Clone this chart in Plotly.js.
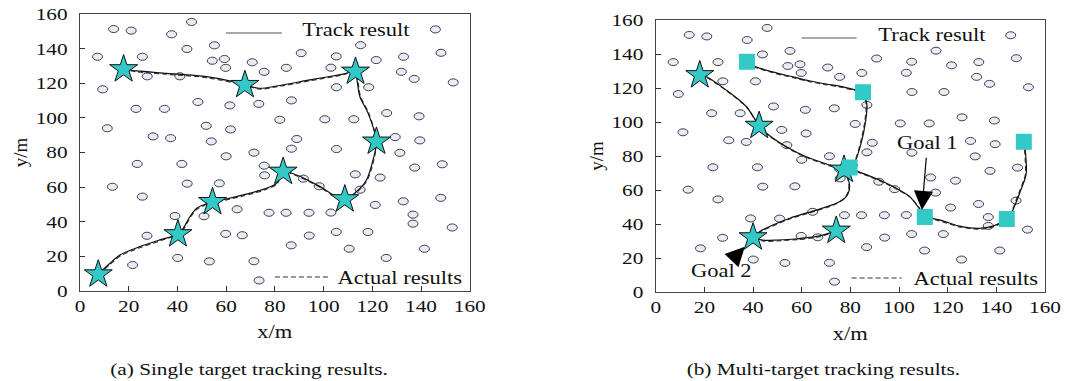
<!DOCTYPE html>
<html>
<head>
<meta charset="utf-8">
<script src="https://cdn.plot.ly/plotly-3.0.1.min.js"></script>
<style>html,body{margin:0;padding:0;background:#fff}#chart{width:1065px;height:381px}</style>
</head>
<body>
<div id="chart"></div>
<script>
// ---------- DATA ----------
const axisTicks = [0, 20, 40, 60, 80, 100, 120, 140, 160];

// obstacles shared by both maps
const obsX = [13.8,21.0,45.8,37.6,7.2,25.6,43.9,55.2,54.3,59.3,59.8,70.7,75.6,27.6,41.0,9.3,23.0,34.7,48.4,61.5,73.4,11.2,30.0,37.2,51.8,53.9,61.8,71.4,60.0,23.5,41.8,75.6,75.8,13.3,44.0,57.2,25.6,39.0,50.9,64.5,77.6,27.5,59.8,66.6,40.1,53.1,71.4,73.5,
  145.9,115.2,90.8,105.2,121.6,132.8,148.2,84.7,103.0,131.9,137.2,153.2,105.3,118.5,86.8,82.0,100.5,112.4,125.9,139.2,89.0,86.8,105.3,129.4,139.5,131.3,91.7,113.0,123.2,137.4,148.7,98.2,115.0,121.2,132.7,148.1,136.7,136.7,152.8,84.6,94.0,103.0,94.1,105.2,118.2,86.7,110.5,141.4,125.7];
const obsY = [151.3,150.4,155.4,148.3,135.3,135.3,139.8,141.9,133.0,134.0,128.9,132.1,126.6,124.0,124.0,116.5,105.2,105.2,109.2,107.2,108.1,94.0,89.3,88.3,95.4,86.4,93.3,79.9,77.8,73.4,73.4,72.4,66.8,60.2,62.0,62.2,54.5,43.3,43.2,47.2,45.2,31.9,33.0,32.2,19.1,17.1,17.2,6.1,
  151.1,142.0,137.4,135.5,133.4,135.3,137.6,128.9,129.0,126.6,122.5,120.5,117.7,117.7,110.1,98.9,99.2,99.2,102.8,100.9,87.8,82.2,82.0,88.9,87.0,79.8,64.9,67.4,65.5,71.3,73.2,60.5,58.5,49.7,51.8,53.8,44.1,38.9,36.7,45.2,45.2,45.3,32.0,34.1,34.1,26.4,24.4,24.4,19.1];
// obstacles only in one map
const obsOnlyAX = [21.6], obsOnlyAY = [15.0];
const obsOnlyBX = [18.4], obsOnlyBY = [25.7];

// (a) single target
const aTrackX = [7.5,12.3,16.4,24.6,32.8,40.2,42.4,45.1,47.9,50.6,54.4,59.5,67.0,75.2,80.7,83.4,88.9,98.5,103.9,108.7,113.5,117.6,120.3,121.7,118.3,114.9,113.8,113.1,108.0,94.4,80.7,73.8,67.7,62.9,52.0,35.6,23.3,17.9];
const aTrackY = [9.6,16.0,20.8,25.6,29.5,32.8,36.2,42.9,47.8,49.7,51.6,53.0,55.5,58.7,62.2,68.9,67.0,60.3,55.5,53.0,57.4,64.1,75.7,86.3,102.6,112.2,120.9,126.7,125.3,121.9,118.4,117.1,119.0,120.9,123.8,125.7,127.1,128.1];
const aActualX = [7.5,12.5,16.6,24.8,33.0,40.2,42.6,45.3,48.1,50.8,54.4,59.7,67.2,75.4,80.9,83.4,89.1,98.7,104.1,108.7,113.7,117.9,120.6,121.7,118.6,115.2,114.1,113.1,107.8,94.2,80.5,73.6,67.7,62.7,51.8,35.4,23.1,17.9];
const aActualY = [9.6,15.6,20.3,25.1,29.0,32.8,36.0,42.6,47.4,49.3,51.6,52.5,55.0,58.2,61.8,68.9,66.5,59.8,55.0,53.0,57.2,64.0,75.6,86.3,102.5,112.1,120.8,126.7,124.8,121.4,117.9,116.6,119.0,120.4,123.3,125.2,126.6,128.1];
const aStarX = [7.5,40.2,54.4,83.4,108.7,121.7,113.1,67.7,17.9];
const aStarY = [9.6,32.8,51.4,68.9,53.0,86.3,126.7,119.0,128.1];

// (b) multi target
const b1TrackX = [18.1,20.8,29.0,37.3,42.5,45.5,53.7,61.9,71.5,77.4,79.7,78.3,74.2,66.0,55.1,42.7,40.0];
const b1TrackY = [127.6,126.7,118.8,109.0,97.8,93.4,85.5,79.6,74.7,72.0,61.9,56.1,52.2,48.2,43.4,35.5,32.2];
const b1ActualX = [18.1,21.0,29.2,37.5,42.5,45.7,53.9,62.1,71.6,77.4,79.4,78.0,74.0,65.8,54.9,42.5,40.0];
const b1ActualY = [127.6,126.2,118.3,108.6,97.8,92.9,85.0,79.1,74.2,72.0,61.8,55.8,51.8,47.7,42.9,35.1,32.2];
const b2TrackX = [37.5,39.3,48.0,56.4,63.0,70.1,76.0,81.1,85.2,86.8,86.2,84.5,82.0,79.7,85.2,92.0,98.9,104.4,107.8,110.6];
const b2TrackY = [135.5,133.5,129.5,126.6,124.3,122.4,121.0,119.2,117.5,110.0,100.0,88.0,77.0,73.3,69.8,65.9,61.0,56.1,50.2,44.1];
const b2ActualX = [37.5,39.5,48.2,56.6,63.2,70.3,76.2,81.2,85.2,86.5,85.9,84.2,81.8,79.7,85.4,92.2,99.1,104.7,108.1,110.6];
const b2ActualY = [135.5,133.0,129.0,126.1,123.8,121.9,120.5,118.8,117.5,110.0,100.0,88.0,77.0,73.3,69.3,65.4,60.5,55.7,49.9,44.1];
const b3TrackX = [74.2,67.4,59.2,50.0,44.0,40.0];
const b3TrackY = [36.1,33.0,31.5,30.6,30.5,32.2];
const b3ActualX = [74.2,67.4,59.2,50.0,44.0,40.0];
const b3ActualY = [35.7,32.5,31.0,30.1,30.0,32.2];
const b4TrackX = [151.3,152.0,152.3,151.6,149.5,146.8,144.3,142.7,138.6,133.1,124.9,117.0,110.6];
const b4TrackY = [88.4,81.6,69.8,65.9,58.0,48.2,42.9,41.4,38.8,37.5,38.8,42.3,44.1];
const b4ActualX = [151.3,151.7,152.0,151.3,149.2,146.5,144.3,142.6,138.5,133.0,124.8,116.9,110.6];
const b4ActualY = [88.4,81.6,69.8,65.9,58.0,48.2,42.9,40.9,38.3,37.0,38.3,41.8,44.1];
const bStarX = [18.1,42.5,77.4,40.0,74.2];
const bStarY = [127.6,97.8,72.0,32.2,36.1];
const bSquareX = [37.5,85.2,79.7,110.6,144.3,151.3];
const bSquareY = [135.5,117.5,73.3,44.1,42.9,88.4];

const goal1 = {x:109.4, y:48.2, tx:111.7, ty:87.5, label:'Goal 1'};
const goal2 = {x:36.6, y:26.6, tx:27.2, ty:12.5, label:'Goal 2'};

const labels = {
  track: 'Track result', actual: 'Actual results',
  x: 'x/m', y: 'y/m',
  capA: '(a) Single target tracking results.',
  capB: '(b) Multi-target tracking results.'
};

// ---------- STYLE ----------
const FONT = '"Liberation Serif", "Times New Roman", serif';
const TEAL = '#33c9c7';
const OBS_R = 2.05;
const STRETCH = 1.25;

function line(x, y, xa, ya, dashed) {
  return {type:'scatter', mode:'lines', x, y, xaxis:xa, yaxis:ya, hoverinfo:'skip', showlegend:false,
    line:{color: dashed ? '#3a3a3a' : '#111', width: 1.2, dash: dashed ? '5px,3px' : 'solid', shape:'spline', smoothing:0.8}};
}
function stars(x, y, xa, ya) {
  return {type:'scatter', mode:'markers', x, y, xaxis:xa, yaxis:ya, showlegend:false,
    marker:{symbol:'star', size:21, color:TEAL, line:{color:'#111', width:1}}};
}
function squares(x, y, xa, ya) {
  return {type:'scatter', mode:'markers', x, y, xaxis:xa, yaxis:ya, showlegend:false,
    marker:{symbol:'square', size:16, color:TEAL, line:{width:0}}};
}

const data = [
  line(aActualX, aActualY, 'x', 'y', true),
  line(aTrackX, aTrackY, 'x', 'y', false),
  stars(aStarX, aStarY, 'x', 'y'),
  line(b1ActualX, b1ActualY, 'x2', 'y2', true),
  line(b1TrackX, b1TrackY, 'x2', 'y2', false),
  line(b2ActualX, b2ActualY, 'x2', 'y2', true),
  line(b2TrackX, b2TrackY, 'x2', 'y2', false),
  line(b3ActualX, b3ActualY, 'x2', 'y2', true),
  line(b3TrackX, b3TrackY, 'x2', 'y2', false),
  line(b4ActualX, b4ActualY, 'x2', 'y2', true),
  line(b4TrackX, b4TrackY, 'x2', 'y2', false),
  stars(bStarX, bStarY, 'x2', 'y2'),
  squares(bSquareX, bSquareY, 'x2', 'y2')
];

function obstacleShapes(xs, ys, xref, yref) {
  return xs.map((x, i) => ({type:'circle', xref, yref, layer:'below',
    x0:x-OBS_R, x1:x+OBS_R, y0:ys[i]-OBS_R, y1:ys[i]+OBS_R,
    fillcolor:'#e8ecf8', line:{color:'#2a2a2a', width:0.9}}));
}
const shapes = [].concat(
  obstacleShapes(obsX, obsY, 'x', 'y'),
  obstacleShapes(obsOnlyAX, obsOnlyAY, 'x', 'y'),
  obstacleShapes(obsX, obsY, 'x2', 'y2'),
  obstacleShapes(obsOnlyBX, obsOnlyBY, 'x2', 'y2'),
  [
    {type:'line', xref:'paper', yref:'paper', x0:0.1512, x1:0.2092, y0:0.9317, y1:0.9317, line:{color:'#555', width:1.2}},
    {type:'line', xref:'paper', yref:'paper', x0:0.2020, x1:0.2569, y0:0.0540, y1:0.0540, line:{color:'#333', width:1.2, dash:'5px,3px'}},
    {type:'line', xref:'paper', yref:'paper', x0:0.7478, x1:0.8048, y0:0.9137, y1:0.9137, line:{color:'#555', width:1.2}},
    {type:'line', xref:'paper', yref:'paper', x0:0.7996, x1:0.8514, y0:0.0504, y1:0.0504, line:{color:'#333', width:1.2, dash:'5px,3px'}}
  ]
);

function txt(text, x, y, size) {
  return {text, x, y, xref:'paper', yref:'paper', showarrow:false, xanchor:'center', yanchor:'middle',
    font:{family:FONT, size:size, color:'#111'}};
}
function goal(g) {
  return {text:g.label, x:g.x, y:g.y, ax:g.tx, ay:g.ty, xref:'x2', yref:'y2', axref:'x2', ayref:'y2',
    showarrow:true, arrowhead:2, arrowsize:3.2, arrowwidth:1.2, arrowcolor:'#000', startstandoff:3,
    font:{family:FONT, size:18, color:'#111'}};
}
const annotations = [
  txt(labels.track, 0.2859, 0.9424, 18),
  txt(labels.actual, 0.3309, 0.0504, 18),
  txt(labels.track, 0.8824, 0.9245, 18),
  txt(labels.actual, 0.9275, 0.0468, 18),
  txt(labels.capA, 0.175, -0.277, 17),
  txt(labels.capB, 0.770, -0.277, 17),
  goal(goal1), goal(goal2)
];

function axisX(domain, anchor) {
  return {domain, anchor, range:[0,160], tickvals:axisTicks, ticktext:axisTicks.map(String),
    ticks:'inside', ticklen:5, tickcolor:'#333', showline:true, mirror:true, linecolor:'#444', linewidth:1,
    showgrid:false, zeroline:false, tickfont:{family:FONT, size:17, color:'#111'},
    title:{text:labels.x, font:{family:FONT, size:18, color:'#111'}, standoff:10}};
}
function axisY(domain, anchor) {
  return {domain, anchor, range:[0,160], tickvals:axisTicks, ticktext:axisTicks.map(String),
    ticks:'inside', ticklen:5, tickcolor:'#333', showline:true, mirror:true, linecolor:'#444', linewidth:1,
    showgrid:false, zeroline:false, ticklabelstandoff:8, tickfont:{family:FONT, size:17, color:'#111'},
    title:{text:labels.y, font:{family:FONT, size:19, color:'#111'}, standoff:9}};
}

const layout = {
  width:1065, height:381,
  margin:{l:80, r:19.5, t:14, b:89},
  paper_bgcolor:'#fff', plot_bgcolor:'#fff',
  showlegend:false,
  xaxis: axisX([0, 0.4039], 'y'),
  yaxis: axisY([0.0036, 1], 'x'),
  xaxis2: axisX([0.5966, 1], 'y2'),
  yaxis2: axisY([0, 0.978], 'x2'),
  shapes, annotations
};

Plotly.newPlot('chart', data, layout, {staticPlot:true, displayModeBar:false}).then(gd => {
  gd.querySelectorAll('svg text').forEach(t => {
    const tr = t.getAttribute('transform') || '';
    if (tr.indexOf('rotate') >= 0) return;
    if (!t.textContent.trim()) return;
    const len = t.getComputedTextLength();
    t.setAttribute('textLength', (len * STRETCH).toFixed(2));
    t.setAttribute('lengthAdjust', 'spacingAndGlyphs');
  });
});
</script>
</body>
</html>
